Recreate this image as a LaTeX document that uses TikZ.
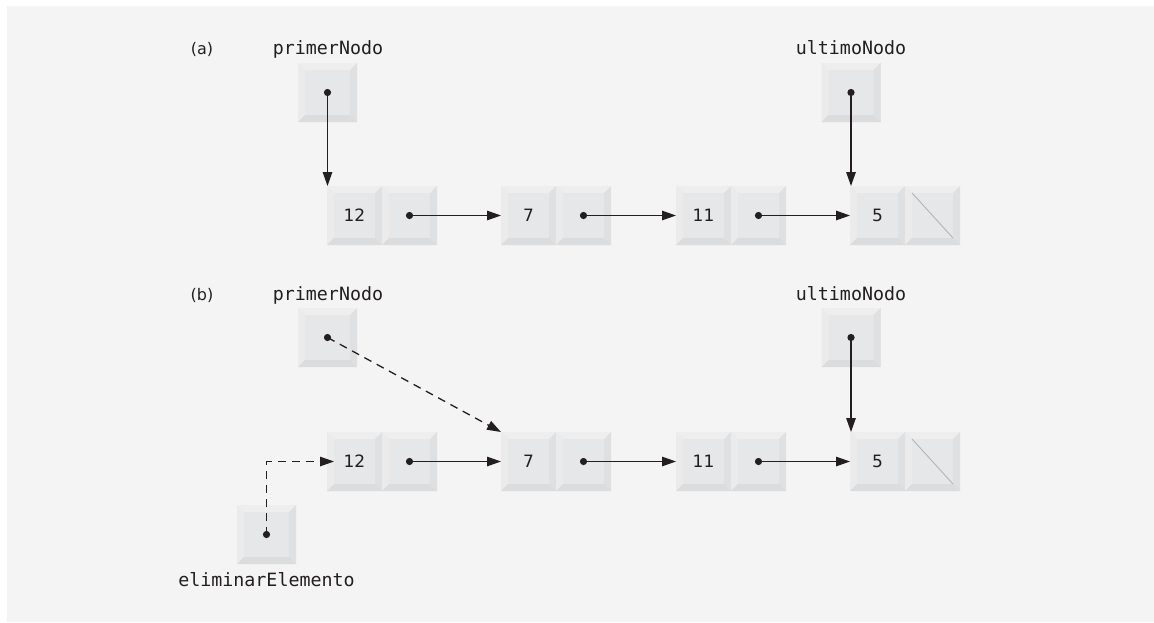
\documentclass[tikz,border=0pt]{standalone}
\usepackage{fontspec}
\newfontfamily\monof{DejaVu Sans Mono}
\newfontfamily\sansf{DejaVu Sans}
\usetikzlibrary{arrows.meta,calc}
\definecolor{bg}{HTML}{F4F4F4}
\definecolor{face}{HTML}{E6E7E8}
\definecolor{bevT}{HTML}{EEEEEF}
\definecolor{bevL}{HTML}{EBEBEC}
\definecolor{bevR}{HTML}{DFE0E1}
\definecolor{bevB}{HTML}{DBDCDD}
\definecolor{ink}{HTML}{231F20}
\definecolor{nullc}{HTML}{B4B5B7}
\tikzset{
  bevelbox/.style={inner sep=0pt, outer sep=0pt, fill=face, text=ink,
    font=\sansf\fontsize{17}{20}\selectfont,
    path picture={
      \fill[bevT] let \p1=(path picture bounding box.south west), \p2=(path picture bounding box.north east) in
        (\x1,\y2) -- (\x2,\y2) -- (\x2-7pt,\y2-7pt) -- (\x1+7pt,\y2-7pt) -- cycle;
      \fill[bevL] let \p1=(path picture bounding box.south west), \p2=(path picture bounding box.north east) in
        (\x1,\y1) -- (\x1,\y2) -- (\x1+7pt,\y2-7pt) -- (\x1+7pt,\y1+7pt) -- cycle;
      \fill[bevR] let \p1=(path picture bounding box.south west), \p2=(path picture bounding box.north east) in
        (\x2,\y1) -- (\x2,\y2) -- (\x2-7pt,\y2-7pt) -- (\x2-7pt,\y1+7pt) -- cycle;
      \fill[bevB] let \p1=(path picture bounding box.south west), \p2=(path picture bounding box.north east) in
        (\x1,\y1) -- (\x2,\y1) -- (\x2-7pt,\y1+7pt) -- (\x1+7pt,\y1+7pt) -- cycle;
    }},
  cellbox/.style={bevelbox, minimum width=55pt, minimum height=59pt},
  ptrbox/.style={bevelbox, minimum width=59pt, minimum height=59pt},
  lbl/.style={font=\monof\fontsize{18.3}{22}\selectfont, text=ink, anchor=base, inner sep=0pt},
  tag/.style={font=\sansf\fontsize{16}{18}\selectfont, text=ink, anchor=base, inner sep=0pt},
  arr/.style={draw=ink, line width=1.3pt, -{Triangle[length=14pt,width=9.5pt]}},
  dsh/.style={arr, dash pattern=on 8pt off 6pt},
  dotc/.style={fill=ink},
  nullline/.style={draw=nullc, line width=0.9pt}
}
\begin{document}
\begin{tikzpicture}[x=1pt,y=-1pt]
\useasboundingbox (0,0) rectangle (1154,622);
\fill[white] (0,0) rectangle (1154,622);
\fill[bg] (7,6) rectangle (1154,622);

% ---------- (a) ----------
\node[tag] (taga) at (202,54) {(a)};
\node[lbl] (lpa) at (328,54) {primerNodo};
\node[lbl] (lua) at (851,54) {ultimoNodo};
\node[ptrbox] (pa) at (327.5,92.5) {};
\node[ptrbox] (ua) at (851,92.5) {};

\node[cellbox] (a1v) at (354.5,215.5) {12};
\node[cellbox] (a1p) at (409.5,215.5) {};
\node[cellbox] (a2v) at (528.5,215.5) {7};
\node[cellbox] (a2p) at (583.5,215.5) {};
\node[cellbox] (a3v) at (703.5,215.5) {11};
\node[cellbox] (a3p) at (758.5,215.5) {};
\node[cellbox] (a4v) at (877.5,215.5) {5};
\node[cellbox] (a4p) at (932.5,215.5) {};
\draw[nullline] ($(a4p.north west)+(7pt,-7pt)$) -- ($(a4p.south east)+(-7pt,7pt)$);

\draw[arr] (pa.center) -- (pa.center |- a1v.north);
\draw[arr] (ua.center) -- (ua.center |- a4v.north);
\draw[arr] (a1p.center) -- (a2v.west);
\draw[arr] (a2p.center) -- (a3v.west);
\draw[arr] (a3p.center) -- (a4v.west);
\foreach \n in {pa,ua,a1p,a2p,a3p} \fill[dotc] (\n.center) circle (3.6pt);

% ---------- (b) ----------
\node[tag] (tagb) at (202,300) {(b)};
\node[lbl] (lpb) at (328,300) {primerNodo};
\node[lbl] (lub) at (851,300) {ultimoNodo};
\node[ptrbox] (pb) at (327.5,337.5) {};
\node[ptrbox] (ub) at (851,337.5) {};

\node[cellbox] (b1v) at (354.5,461.5) {12};
\node[cellbox] (b1p) at (409.5,461.5) {};
\node[cellbox] (b2v) at (528.5,461.5) {7};
\node[cellbox] (b2p) at (583.5,461.5) {};
\node[cellbox] (b3v) at (703.5,461.5) {11};
\node[cellbox] (b3p) at (758.5,461.5) {};
\node[cellbox] (b4v) at (877.5,461.5) {5};
\node[cellbox] (b4p) at (932.5,461.5) {};
\draw[nullline] ($(b4p.north west)+(7pt,-7pt)$) -- ($(b4p.south east)+(-7pt,7pt)$);

\node[ptrbox] (eb) at (266.5,534.5) {};
\node[lbl] (leb) at (266.5,586) {eliminarElemento};

\draw[dsh] (pb.center) -- (b2v.north west);
\draw[arr] (ub.center) -- (ub.center |- b4v.north);
\draw[arr] (b1p.center) -- (b2v.west);
\draw[arr] (b2p.center) -- (b3v.west);
\draw[arr] (b3p.center) -- (b4v.west);
\draw[dsh] (eb.center) |- ($(b1v.west)+(7pt,0)$);
\foreach \n in {pb,ub,b1p,b2p,b3p,eb} \fill[dotc] (\n.center) circle (3.6pt);
\end{tikzpicture}
\end{document}
